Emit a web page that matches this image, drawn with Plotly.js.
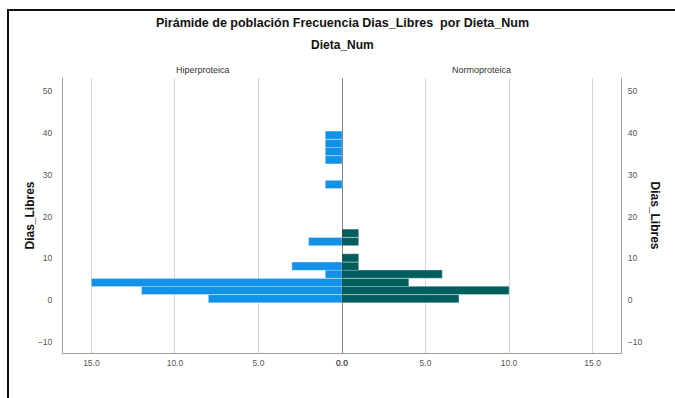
<!DOCTYPE html>
<html>
<head>
<meta charset="utf-8">
<script src="https://cdn.plot.ly/plotly-3.0.1.min.js"></script>
<style>
  html, body { margin: 0; padding: 0; background: #fff; }
  #wrap { position: relative; width: 675px; height: 398px; overflow: hidden; }
  #chart { width: 675px; height: 398px; }
  #frame { position: absolute; left: 7px; top: 9px; width: 700px; height: 420px;
           border: 2.5px solid #111; pointer-events: none; box-sizing: border-box; }
</style>
</head>
<body>
<div id="wrap"><div id="chart"></div><div id="frame"></div></div>
<script>
// Dias_Libres bin midpoints (bars) and frequency counts per Dieta_Num group
const binMid = [0.3, 2.3, 4.2, 6.2, 8.1, 10.1, 14.0, 16.0, 27.7, 33.6, 35.6, 37.5, 39.5];
const hiperproteica = [8, 12, 15, 1, 3, 0, 2, 0, 1, 1, 1, 1, 1];
const normoproteica = [7, 10, 4, 6, 1, 1, 1, 1, 0, 0, 0, 0, 0];
const groupNames = ['Hiperproteica', 'Normoproteica'];
const xTicks = [0, 5, 10, 15];
const yTicks = [-10, 0, 10, 20, 30, 40, 50];

const FONT = 'Liberation Sans, Arial, sans-serif';
const binWidth = 1.96;
const yRange = [-12.7, 53.2];
const xMax = 16.7;

const traces = [
  { type: 'bar', orientation: 'h', name: groupNames[0], y: binMid, x: hiperproteica,
    width: binWidth, xaxis: 'x', yaxis: 'y',
    marker: { color: '#1192e8', line: { color: 'rgba(255,255,255,0.3)', width: 1 } },
    hoverinfo: 'x+y' },
  { type: 'bar', orientation: 'h', name: groupNames[1], y: binMid, x: normoproteica,
    width: binWidth, xaxis: 'x2', yaxis: 'y2',
    marker: { color: '#005d5d', line: { color: 'rgba(255,255,255,0.3)', width: 1 } },
    hoverinfo: 'x+y' }
];

const tickFont = { family: FONT, size: 8.5, color: '#555' };
const xCommon = {
  tickvals: xTicks, tickformat: '.1f', showgrid: true, gridcolor: '#d4d4d4', gridwidth: 1,
  zeroline: false, showline: true, linecolor: '#a0a0a0', linewidth: 1,
  ticks: '', tickfont: tickFont, ticklabelstandoff: 2, fixedrange: true
};
const yCommon = {
  range: yRange, tickvals: yTicks, showgrid: false, zeroline: false,
  showline: true, linecolor: '#a0a0a0', linewidth: 1, ticks: '', tickfont: tickFont,
  fixedrange: true
};

const layout = {
  width: 675, height: 398,
  margin: { l: 63, r: 54, t: 78, b: 45, pad: 0 },
  paper_bgcolor: '#fff', plot_bgcolor: '#fff',
  showlegend: false, bargap: 0,
  font: { family: FONT },
  xaxis: Object.assign({}, xCommon, { domain: [0, 0.5], range: [xMax, 0], anchor: 'y' }),
  xaxis2: Object.assign({}, xCommon, { domain: [0.5, 1], range: [0, xMax], anchor: 'y2' }),
  yaxis: Object.assign({}, yCommon, { anchor: 'x', side: 'left', ticklabelstandoff: 8 }),
  yaxis2: Object.assign({}, yCommon, { anchor: 'x2', side: 'right', ticklabelstandoff: 4 }),
  shapes: [
    { type: 'line', xref: 'x2', yref: 'paper', x0: 0, x1: 0, y0: 0, y1: 1,
      line: { color: '#333', width: 1.2 } }
  ],
  annotations: [
    { text: '<b>Pirámide de población Frecuencia Dias_Libres \u00a0por Dieta_Num</b>',
      xref: 'paper', yref: 'paper', x: 0.5, y: 1, yshift: 55, xanchor: 'center', yanchor: 'middle',
      showarrow: false, font: { family: FONT, size: 12.5, color: '#111' } },
    { text: '<b>Dieta_Num</b>',
      xref: 'paper', yref: 'paper', x: 0.5, y: 1, yshift: 33, xanchor: 'center', yanchor: 'middle',
      showarrow: false, font: { family: FONT, size: 12, color: '#111' } },
    { text: groupNames[0], xref: 'paper', yref: 'paper', x: 0.25, y: 1, yshift: 8,
      xanchor: 'center', yanchor: 'middle', showarrow: false,
      font: { family: FONT, size: 9, color: '#333' } },
    { text: groupNames[1], xref: 'paper', yref: 'paper', x: 0.75, y: 1, yshift: 8,
      xanchor: 'center', yanchor: 'middle', showarrow: false,
      font: { family: FONT, size: 9, color: '#333' } },
    { text: '<b>Dias_Libres</b>', xref: 'paper', yref: 'paper', x: 0, y: 0.5, xshift: -34,
      xanchor: 'center', yanchor: 'middle', textangle: -90, showarrow: false,
      font: { family: FONT, size: 12, color: '#111' } },
    { text: '<b>Dias_Libres</b>', xref: 'paper', yref: 'paper', x: 1, y: 0.5, xshift: 34,
      xanchor: 'center', yanchor: 'middle', textangle: 90, showarrow: false,
      font: { family: FONT, size: 12, color: '#111' } }
  ]
};

Plotly.newPlot('chart', traces, layout, { displayModeBar: false, staticPlot: true });
</script>
</body>
</html>
